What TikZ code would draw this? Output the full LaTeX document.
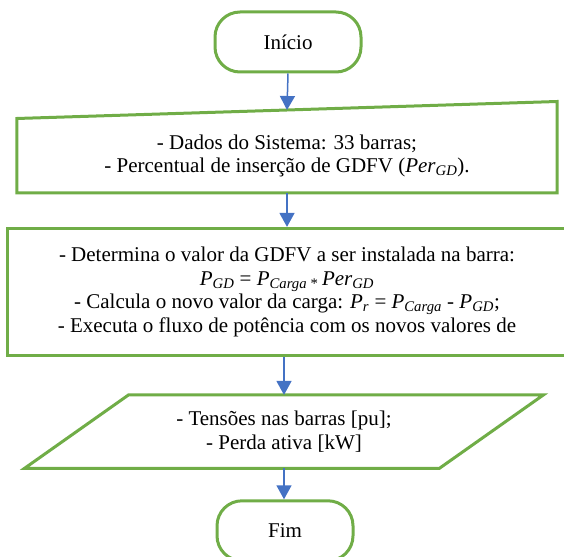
\documentclass[tikz,border=0pt]{standalone}
\usepackage{fontspec}
\setmainfont{Liberation Serif}
\usetikzlibrary{arrows.meta, positioning, calc}
\definecolor{borderColor}{RGB}{112,173,71}
\definecolor{arrowColor}{RGB}{68,114,196}
\newcommand{\varsub}[2]{\textit{#1}\textsubscript{\textit{#2}}}

\begin{document}
\begin{tikzpicture}[
        x=1pt, y=1pt,
        font=\fontsize{21}{23.5}\selectfont,
        terminal/.style={rectangle, draw=borderColor, line width=3pt, rounded corners=25pt, minimum height=60pt, align=center},
        box/.style={rectangle, align=center, inner sep=0pt},
        process/.style={box, draw=borderColor, line width=3pt},
        outline/.style={draw=borderColor, line width=3pt, line join=miter},
        arrow/.style={-{Triangle[width=15pt, length=14pt]}, draw=arrowColor, line width=1.5pt}
    ]
        \useasboundingbox (0,0) rectangle (564,-556);

        % Inicio
        \node[terminal, minimum width=146pt] (inicio) at (288,-42) {Início};

        % Dados de entrada
        \node[box, minimum width=540pt, minimum height=74pt, below=45pt of inicio, xshift=-1pt] (dados) {- Dados do Sistema: 33 barras;\\- Percentual de inserção de GDFV (\varsub{Per}{GD}).};
        \draw[outline] (dados.south west) -- (dados.north west) -- ($(dados.north east)+(0,17)$) -- (dados.south east) -- cycle;
        \coordinate (dadosTopo) at ($(dados.north)+(0,8.5)$);

        % Calculo da GDFV e fluxo de potencia
        \node[process, minimum width=560pt, minimum height=127pt, below=34pt of dados] (calculo) {- Determina o valor da GDFV a ser instalada na barra:\\
            \varsub{P}{GD} = \varsub{P}{Carga}\,\textsubscript{*}\,\varsub{Per}{GD}\\
            - Calcula o novo valor da carga: \varsub{P}{r} = \varsub{P}{Carga} - \varsub{P}{GD};\\
            - Executa o fluxo de potência com os novos valores de};

        % Saida
        \node[box, minimum width=414.5pt, minimum height=73pt, below=38pt of calculo, xshift=-3pt] (saida) {- Tensões nas barras [pu];\\- Perda ativa [kW]};
        \draw[outline] ($(saida.south west)+(-52,0)$) -- ($(saida.north west)+(52,0)$) -- ($(saida.north east)+(52,0)$) -- ($(saida.south east)+(-52,0)$) -- cycle;

        % Fim
        \node[terminal, minimum width=136pt, below=31pt of saida, xshift=1pt] (fim) {Fim};

        % Arrows
        \draw[arrow] (inicio.south) -- (dadosTopo);
        \draw[arrow] (dados.south) -- (calculo.north);
        \draw[arrow] (calculo.south -| saida.north) -- (saida.north);
        \draw[arrow] (saida.south) -- (saida.south |- fim.north);
    \end{tikzpicture}
\end{document}
